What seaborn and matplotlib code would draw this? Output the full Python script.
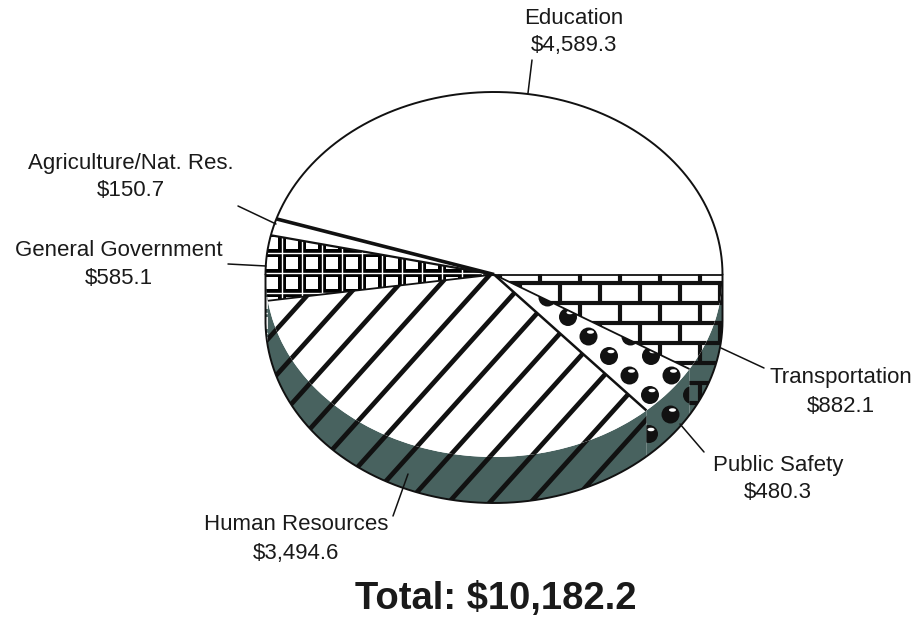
import numpy as np
import matplotlib
matplotlib.use("Agg")
import matplotlib.pyplot as plt
import seaborn as sns
import matplotlib.transforms as mtransforms
from matplotlib.patches import Polygon, Rectangle, Circle, Ellipse, Wedge
from matplotlib.collections import LineCollection

# ---------------- data ----------------
categories = ["Education", "Agriculture/Nat. Res.", "General Government",
              "Human Resources", "Public Safety", "Transportation"]
values = [4589.3, 150.7, 585.1, 3494.6, 480.3, 882.1]
value_labels = ["$4,589.3", "$150.7", "$585.1", "$3,494.6", "$480.3", "$882.1"]
total_label = "Total: $10,182.2"

# ---------------- style ----------------
sns.set_theme(style="white")
plt.rcParams["font.family"] = ["Liberation Sans", "DejaVu Sans"]

W, H = 917, 619
fig = plt.figure(figsize=(W / 100, H / 100), dpi=100)
ax = fig.add_axes([0, 0, 1, 1])

CX, CY, RX, RY, DEPTH = 494, 274.5, 228.5, 182.5, 46
D = DEPTH / RY
TEAL = "#48625f"
TXT = "#1a1a1a"

faces = ["white", "white", "black", "white", "white", "white"]
wedges, _ = ax.pie(values, startangle=0, counterclock=True, radius=1,
                   colors=faces, wedgeprops=dict(linewidth=0, edgecolor="none"))
ax.set_xlim(0, W)
ax.set_ylim(H, 0)
ax.set_aspect("auto")
ax.axis("off")

unit = mtransforms.Affine2D().scale(RX, -RY).translate(CX, CY) + ax.transData
for w in wedges:
    w.set_transform(unit)
    w.set_zorder(2)

# side (depth) polygons
sides = []
for w, fc in zip(wedges, faces):
    a, b = max(w.theta1, 180), min(w.theta2, 360)
    if b > a:
        th = np.radians(np.linspace(a, b, 120))
        top = np.c_[np.cos(th), np.sin(th)]
        bot = np.c_[np.cos(th[::-1]), np.sin(th[::-1]) - D]
        p = Polygon(np.vstack([top, bot]), closed=True, transform=unit,
                    facecolor=TEAL, edgecolor="none", zorder=1)
        ax.add_patch(p)
        sides.append(p)
    else:
        sides.append(None)


# ---------------- fill patterns ----------------
def pat_lines(clip, z):
    ang = np.radians(48)
    dx, dy = np.cos(ang), -np.sin(ang)
    segs = []
    for k in range(-20, 20):
        x0, y0 = 400 + 41 * k, 420
        segs.append([(x0 - 600 * dx, y0 - 600 * dy), (x0 + 600 * dx, y0 + 600 * dy)])
    lc = LineCollection(segs, colors="#111111", linewidths=3.4, zorder=z)
    ax.add_collection(lc)
    lc.set_clip_path(clip)


def pat_brick(clip, z):
    segs = []
    for r in range(0, 14):
        y = 263 + 20 * r
        segs.append([(470, y + 20), (760, y + 20)])
        xs = 540 if r % 2 == 0 else 560
        for k in range(-3, 7):
            x = xs + 40 * k
            segs.append([(x, y), (x, y + 20)])
    lc = LineCollection(segs, colors="#111111", linewidths=3.0, zorder=z)
    ax.add_collection(lc)
    lc.set_clip_path(clip)


def pat_squares(clip, z):
    segs = []
    for c in range(-1, 14):
        x = 262 + 20 * c
        segs.append([(x, 180), (x, 340)])
    for r in range(-4, 7):
        y = 233 + 20 * r
        segs.append([(250, y), (520, y)])
    lc = LineCollection(segs, colors="white", linewidths=1.0, zorder=z)
    ax.add_collection(lc)
    lc.set_clip_path(clip)
    for r in range(-3, 6):
        for c in range(0, 13):
            rect = Rectangle((272 + 20 * c - 6, 243 + 20 * r - 6), 12, 12,
                             facecolor="white", edgecolor="none", zorder=z)
            ax.add_patch(rect)
            rect.set_clip_path(clip)


def pat_spheres(clip, z):
    for i in range(-6, 12):
        for j in range(-6, 6):
            x = 568 + 20.5 * i + 42 * j
            y = 317 + 19.5 * i
            if not (480 < x < 740 and 260 < y < 520):
                continue
            c = Circle((x, y), 9, facecolor="#111111", edgecolor="none", zorder=z)
            ax.add_patch(c)
            c.set_clip_path(clip)
            hl = Ellipse((x + 2, y - 4.5), 7, 3.5, facecolor="white",
                         edgecolor="none", zorder=z + 0.1)
            ax.add_patch(hl)
            hl.set_clip_path(clip)


patterns = [None, None, pat_squares, pat_lines, pat_spheres, pat_brick]
for w, s, fn in zip(wedges, sides, patterns):
    if fn is None:
        continue
    fn(w, 3)
    if s is not None:
        fn(s, 1.5)

# ---------------- outlines ----------------
lw_rad = [1.3, 2.6, 1.6, 1.3, 1.8, 1.3]
for w, lw in zip(wedges, lw_rad):
    t = np.radians(w.theta1)
    ax.plot([0, np.cos(t)], [0, np.sin(t)], color="#111111", lw=lw,
            transform=unit, zorder=6, solid_capstyle="butt")

th = np.radians(np.linspace(0, 180, 200))
ax.plot(np.cos(th), np.sin(th), color="#111111", lw=1.4, transform=unit, zorder=6)
th = np.radians(np.linspace(180, 360, 200))
ox = np.r_[-1, np.cos(th), 1]
oy = np.r_[0, np.sin(th) - D, 0]
ax.plot(ox, oy, color="#111111", lw=1.4, transform=unit, zorder=6)

# ---------------- labels ----------------
label_pos = [(574, 18), (131, 163), (119, 250), (296, 525), (778, 465), (841, 378)]
leaders = [((532, 60), (528, 93)), ((238, 206), (276, 224)), ((228, 264), (266, 266)),
           ((393, 516), (408, 474)), ((704, 452), (680, 424)), ((764, 368), (721, 348))]
for name, val, (x, y), (p0, p1) in zip(categories, value_labels, label_pos, leaders):
    ax.text(x, y, name, ha="center", va="center", fontsize=16, color=TXT, zorder=8)
    ax.text(x, y + 28, val, ha="center", va="center", fontsize=16, color=TXT, zorder=8)
    ax.plot([p0[0], p1[0]], [p0[1], p1[1]], color="#111111", lw=1.1, zorder=7)

ax.text(496, 599, total_label, ha="center", va="center", fontsize=27.5,
        fontweight="bold", color=TXT, zorder=8)

fig.savefig("out.png", dpi=100)
